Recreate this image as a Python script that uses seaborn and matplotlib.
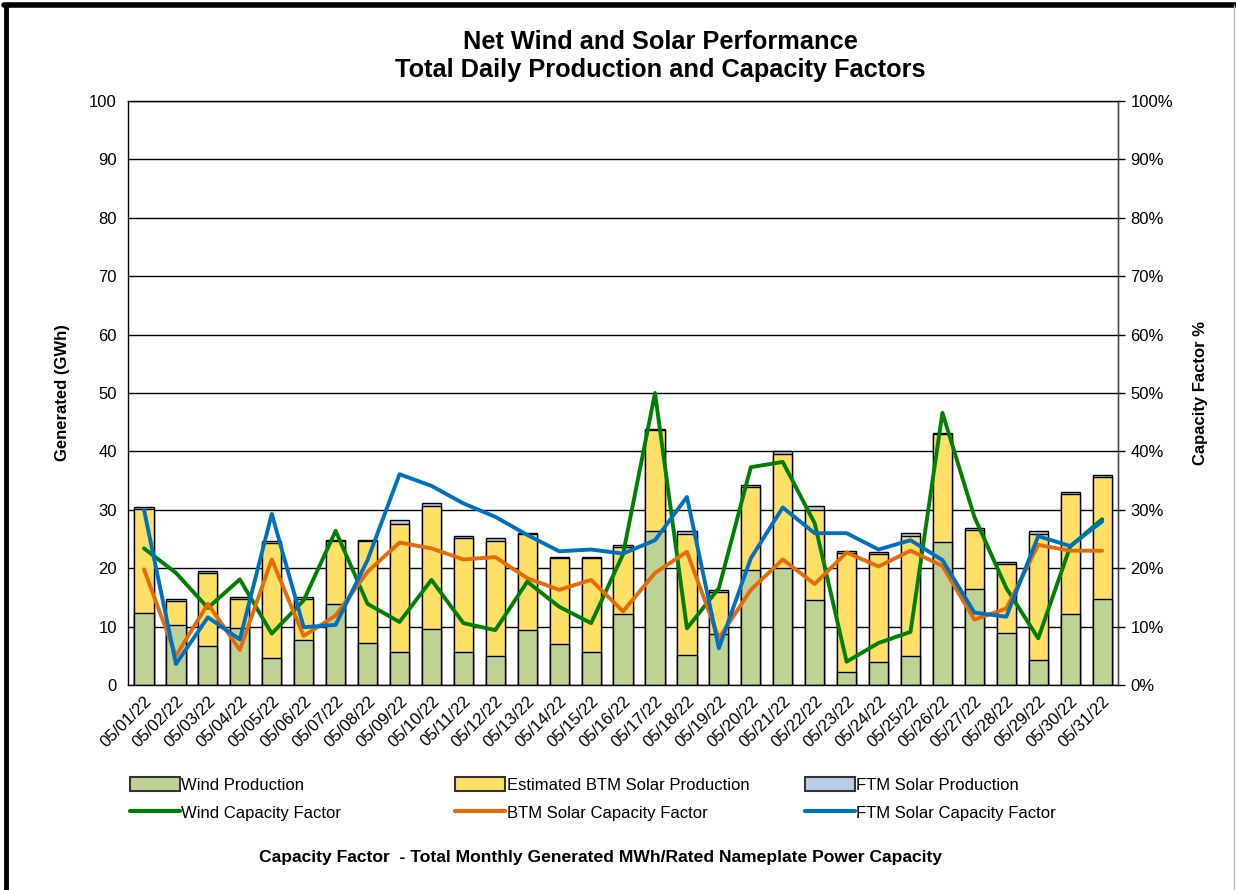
import numpy as np
import pandas as pd
import seaborn as sns
import matplotlib.pyplot as plt
from matplotlib.patches import Patch
from matplotlib.lines import Line2D
from matplotlib.ticker import PercentFormatter

# Gunluk veriler (Mayis 2022)
dates = [f"05/{d:02d}/22" for d in range(1, 32)]

wind_prod = [12.3, 10.2, 6.7, 9.8, 4.7, 7.7, 13.9, 7.2, 5.6, 9.6,
             5.6, 5.0, 9.4, 7.0, 5.6, 12.2, 26.4, 5.2, 8.7, 19.7,
             20.1, 14.6, 2.2, 4.0, 5.0, 24.5, 16.4, 8.9, 4.3, 12.1, 14.8]
btm_prod = [17.8, 4.2, 12.5, 4.9, 19.6, 7.1, 10.7, 17.4, 22.0, 21.1,
            19.5, 19.6, 16.4, 14.7, 16.1, 11.4, 17.2, 20.7, 7.2, 14.2,
            19.5, 15.4, 20.4, 18.4, 20.5, 18.4, 10.2, 11.8, 21.5, 20.6, 20.9]
ftm_prod = [0.3, 0.3, 0.3, 0.3, 0.4, 0.3, 0.3, 0.3, 0.6, 0.5,
            0.5, 0.6, 0.3, 0.3, 0.3, 0.3, 0.3, 0.5, 0.3, 0.3,
            0.5, 0.7, 0.3, 0.3, 0.6, 0.3, 0.3, 0.3, 0.6, 0.3, 0.3]

wind_cf = [23.4, 19.2, 13.2, 18.1, 8.8, 14.5, 26.4, 13.9, 10.8, 18.0,
           10.6, 9.4, 17.7, 13.4, 10.6, 22.4, 50.0, 9.7, 16.6, 37.3,
           38.2, 27.7, 4.0, 7.2, 9.1, 46.6, 28.8, 16.6, 8.0, 23.7, 28.4]
btm_cf = [19.8, 5.0, 13.9, 6.0, 21.5, 8.4, 11.9, 19.4, 24.4, 23.4,
          21.5, 21.9, 18.3, 16.3, 18.0, 12.6, 19.2, 22.8, 8.0, 16.3,
          21.5, 17.3, 22.7, 20.3, 23.0, 20.4, 11.2, 13.1, 24.0, 23.0, 23.0]
ftm_cf = [30.0, 3.6, 11.6, 7.8, 29.3, 9.9, 10.3, 21.4, 36.1, 34.1,
          31.1, 28.8, 25.7, 22.9, 23.2, 22.5, 24.8, 32.2, 6.3, 21.7,
          30.4, 26.0, 26.0, 23.2, 24.8, 21.4, 12.4, 11.7, 25.5, 23.8, 28.0]

df = pd.DataFrame({"date": dates, "wind": wind_prod, "btm": btm_prod, "ftm": ftm_prod})
df["s2"] = df["wind"] + df["btm"]
df["s3"] = df["s2"] + df["ftm"]
idx = np.arange(len(dates))

c_wind, c_btm, c_ftm = "#BED296", "#FFDF66", "#B9CDE5"
l_wind, l_btm, l_ftm = "#008000", "#E36C09", "#0070C0"

sns.set_style("white")
plt.rcParams['font.family'] = ['Liberation Sans', 'DejaVu Sans']
plt.rcParams.update({"text.color": "black", "axes.labelcolor": "black",
                     "xtick.color": "black", "ytick.color": "black"})

fig = plt.figure(figsize=(12.36, 8.9), dpi=100)
ax = fig.add_axes([0.1036, 0.2303, 0.801, 0.6562])

# yigilmis cubuklar: en uzundan kisaya dogru ust uste cizim
for col, color in [("s3", c_ftm), ("s2", c_btm), ("wind", c_wind)]:
    sns.barplot(data=df, x="date", y=col, color=color, width=0.6, saturation=1,
                edgecolor="black", linewidth=1.0, ax=ax, zorder=2)

ax.set_ylim(0, 100)
ax.set_xlim(-0.5, len(dates) - 0.5)
ax.set_yticks(range(0, 101, 10))
ax.yaxis.grid(True, color="black", linewidth=1.0)
ax.set_axisbelow(True)
ax.tick_params(axis="y", length=0, labelsize=12, pad=8)
ax.set_xticks(idx)
ax.set_xticklabels(dates, rotation=45, ha="right", rotation_mode="anchor", fontsize=12)
ax.tick_params(axis="x", length=0, pad=6)
ax.set_xticks(np.arange(-0.5, len(dates), 1.0), minor=True)
ax.tick_params(axis="x", which="minor", length=6, width=1, color="black", direction="out")
ax.set_xlabel("")
ax.set_ylabel("Generated (GWh)", fontsize=12, fontweight="bold", labelpad=14)
for s in ax.spines.values():
    s.set_color("black")
    s.set_linewidth(1.0)

ax2 = ax.twinx()
sns.lineplot(x=idx, y=wind_cf, color=l_wind, linewidth=2.8, ax=ax2)
sns.lineplot(x=idx, y=btm_cf, color=l_btm, linewidth=2.8, ax=ax2)
sns.lineplot(x=idx, y=ftm_cf, color=l_ftm, linewidth=2.8, ax=ax2)
ax2.set_ylim(0, 100)
ax2.set_yticks(range(0, 101, 10))
ax2.yaxis.set_major_formatter(PercentFormatter(decimals=0))
ax2.tick_params(axis="y", length=5, width=1, color="black", direction="out", labelsize=12, pad=4)
ax2.set_ylabel("Capacity Factor %", fontsize=12, fontweight="bold", labelpad=14)
ax2.grid(False)
for s in ax2.spines.values():
    s.set_visible(False)
ax2.spines["right"].set_visible(True)
ax2.spines["right"].set_color("#444444")

fig.text(0.534, 0.953, "Net Wind and Solar Performance", ha="center", va="center",
         fontsize=18.3, fontweight="bold")
fig.text(0.534, 0.921, "Total Daily Production and Capacity Factors", ha="center", va="center",
         fontsize=18.3, fontweight="bold")

# lejant: uc ayri sutun
cols = [
    (0.105, [Patch(facecolor=c_wind, edgecolor="#333333", linewidth=1.5),
             Line2D([], [], color=l_wind, linewidth=3)],
     ["Wind Production", "Wind Capacity Factor"]),
    (0.368, [Patch(facecolor=c_btm, edgecolor="#333333", linewidth=1.5),
             Line2D([], [], color=l_btm, linewidth=3)],
     ["Estimated BTM Solar Production", "BTM Solar Capacity Factor"]),
    (0.651, [Patch(facecolor=c_ftm, edgecolor="#333333", linewidth=1.5),
             Line2D([], [], color=l_ftm, linewidth=3)],
     ["FTM Solar Production", "FTM Solar Capacity Factor"]),
]
for x0, hs, ls in cols:
    fig.legend(hs, ls, loc="upper left", bbox_to_anchor=(x0, 0.127), frameon=False,
               fontsize=12, handlelength=3.0, handleheight=0.9, handletextpad=0.1,
               labelspacing=0.75, borderaxespad=0, borderpad=0)

fig.text(0.486, 0.036, "Capacity Factor  - Total Monthly Generated MWh/Rated Nameplate Power Capacity",
         ha="center", va="center", fontsize=12.6, fontweight="bold")

# cerceve
fig.add_artist(Line2D([0.005, 0.005], [0.0, 0.994], transform=fig.transFigure, color="black", linewidth=3.5))
fig.add_artist(Line2D([0.003, 1.0], [0.994, 0.994], transform=fig.transFigure, color="black", linewidth=4))
fig.add_artist(Line2D([0.998, 0.998], [0.0, 0.994], transform=fig.transFigure, color="#BBBBBB", linewidth=1))

fig.savefig("out.png", dpi=100)
